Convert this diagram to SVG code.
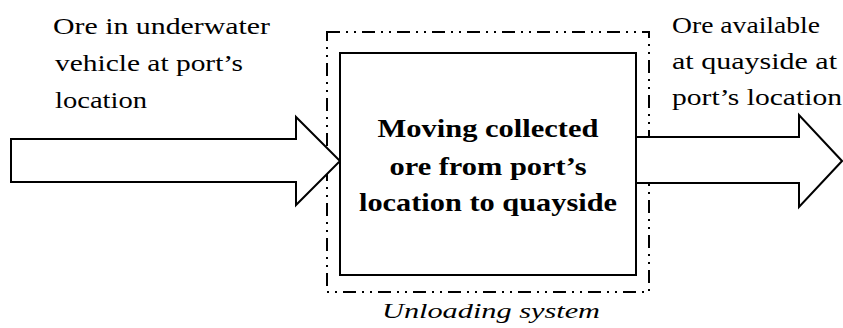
<svg xmlns="http://www.w3.org/2000/svg" width="843" height="328" viewBox="0 0 843 328">
<style>
.arrow{fill:#fff;stroke:#000;stroke-width:2;stroke-linejoin:miter}
.box{fill:#fff;stroke:#000;stroke-width:2}
.boundary{fill:none;stroke:#000;stroke-width:2;stroke-dasharray:13 6 2 6 2 6}
</style>
<rect width="843" height="328" fill="#fff"/>
<g id="boundary">
<rect class="boundary" x="327" y="32" width="322" height="260"/>
<text font-family="Liberation Serif, Times New Roman, serif" font-size="22" font-style="italic" x="491" y="318" text-anchor="middle" textLength="218" lengthAdjust="spacingAndGlyphs">Unloading system</text>
</g>
<g id="connectors">
<polygon class="arrow" points="11,139 296,139 296,117 340,161 296,205 296,182 11,182"/>
<polyline class="arrow" points="636,137 799,137 799,115 842,161 799,207 799,183 636,183"/>
</g>
<g id="process" font-family="Liberation Serif, Times New Roman, serif" font-size="26" font-weight="bold" text-anchor="middle">
<rect class="box" x="340" y="53" width="296" height="222"/>
<text x="488" y="137" textLength="221" lengthAdjust="spacingAndGlyphs">Moving collected</text>
<text x="488" y="174.5" textLength="197" lengthAdjust="spacingAndGlyphs">ore from port’s</text>
<text x="488" y="211" textLength="258" lengthAdjust="spacingAndGlyphs">location to quayside</text>
</g>
<g id="input" font-family="Liberation Serif, Times New Roman, serif" font-size="23">
<text x="53" y="34" textLength="217" lengthAdjust="spacingAndGlyphs">Ore in underwater</text>
<text x="55" y="71" textLength="188" lengthAdjust="spacingAndGlyphs">vehicle at port’s</text>
<text x="55" y="108" textLength="92" lengthAdjust="spacingAndGlyphs">location</text>
</g>
<g id="output" font-family="Liberation Serif, Times New Roman, serif" font-size="23">
<text x="672" y="32.5" textLength="148" lengthAdjust="spacingAndGlyphs">Ore available</text>
<text x="672" y="69" textLength="165" lengthAdjust="spacingAndGlyphs">at quayside  at</text>
<text x="672" y="105" textLength="170" lengthAdjust="spacingAndGlyphs">port’s  location</text>
</g>
</svg>
